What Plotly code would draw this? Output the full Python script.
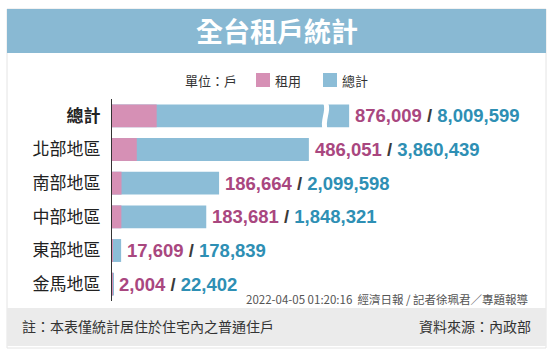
import plotly.graph_objects as go

# ---------------- data ----------------
categories = ["總計", "北部地區", "南部地區", "中部地區", "東部地區", "金馬地區"]
rental = [876009, 486051, 186664, 183681, 17609, 2004]
total = [8009599, 3860439, 2099598, 1848321, 178839, 22402]
break_cap = 4650000  # 總計 bar is drawn broken at this value

title_text = "全台租戶統計"
unit_text = "單位：戶"
legend_names = ["租用", "總計"]
stamp_text = "2022-04-05 01:20:16  經濟日報 / 記者徐珮君／專題報導"
note_text = "註：本表僅統計居住於住宅內之普通住戶"
source_text = "資料來源：內政部"

# ---------------- style ----------------
W, H = 554, 351
PINK_BAR = "#d690b5"
BLUE_BAR = "#8cbdd7"
PINK_TXT = "#a9477f"
TEAL_TXT = "#2e8fb4"
BAND = "#89b9d3"
FOOT = "#ebebeb"
CJK = "Noto Sans CJK TC, Noto Sans CJK SC, sans-serif"
NUM = "Liberation Sans, Arial, sans-serif"


def px(x):
    return x / W


def py(y):
    return 1 - y / H


display_total = [min(t, break_cap) for t in total]

fig = go.Figure()
fig.add_trace(go.Bar(y=categories, x=display_total, orientation="h",
                     marker=dict(color=BLUE_BAR, line=dict(width=0)),
                     name=legend_names[1], showlegend=False, hoverinfo="skip"))
fig.add_trace(go.Bar(y=categories, x=rental, orientation="h",
                     marker=dict(color=PINK_BAR, line=dict(width=0)),
                     name=legend_names[0], showlegend=False, hoverinfo="skip"))

ticktext = ["<b>" + categories[0] + "</b>"] + categories[1:]

shapes = [
    # card
    dict(type="rect", xref="paper", yref="paper", x0=px(7), x1=px(546), y0=py(348), y1=py(9),
         fillcolor="white", line=dict(color="#e4e4e4", width=1), layer="below"),
    # title band
    dict(type="rect", xref="paper", yref="paper", x0=px(7), x1=px(546), y0=py(53), y1=py(9),
         fillcolor=BAND, line=dict(width=0), layer="below"),
    # footer band
    dict(type="rect", xref="paper", yref="paper", x0=px(7), x1=px(546), y0=py(346), y1=py(308),
         fillcolor=FOOT, line=dict(width=0), layer="below"),
    # legend squares
    dict(type="rect", xref="paper", yref="paper", x0=px(256), x1=px(270), y0=py(87), y1=py(73),
         fillcolor=PINK_BAR, line=dict(width=0)),
    dict(type="rect", xref="paper", yref="paper", x0=px(323), x1=px(337), y0=py(87), y1=py(73),
         fillcolor=BLUE_BAR, line=dict(width=0)),
]

# break mark on the 總計 bar (white S-shaped gap)
pts_l = [(323, 103), (327, 110), (319, 122), (323, 130)]
pts_r = [(328, 130), (324, 122), (332, 110), (328, 103)]


def P(p):
    return f"{px(p[0]):.5f},{py(p[1]):.5f}"


path = (f"M{P(pts_l[0])} C{P(pts_l[1])} {P(pts_l[2])} {P(pts_l[3])} "
        f"L{P(pts_r[0])} C{P(pts_r[1])} {P(pts_r[2])} {P(pts_r[3])} Z")
shapes.append(dict(type="path", xref="paper", yref="paper", path=path,
                   fillcolor="white", line=dict(width=0)))

annotations = [
    dict(text="<b>" + title_text + "</b>", xref="paper", yref="paper", x=px(276.5), y=py(31),
         xanchor="center", yanchor="middle", showarrow=False,
         font=dict(family=CJK, size=27, color="white")),
    dict(text=unit_text, xref="paper", yref="paper", x=px(183), y=py(80),
         xanchor="left", yanchor="middle", showarrow=False,
         font=dict(family=CJK, size=13, color="#333")),
    dict(text=legend_names[0], xref="paper", yref="paper", x=px(273), y=py(80),
         xanchor="left", yanchor="middle", showarrow=False,
         font=dict(family=CJK, size=13, color="#333")),
    dict(text=legend_names[1], xref="paper", yref="paper", x=px(340), y=py(80),
         xanchor="left", yanchor="middle", showarrow=False,
         font=dict(family=CJK, size=13, color="#333")),
    dict(text=stamp_text, xref="paper", yref="paper", x=px(531), y=py(299),
         xanchor="right", yanchor="middle", showarrow=False,
         font=dict(family=CJK, size=11.5, color="#555")),
    dict(text=note_text, xref="paper", yref="paper", x=px(20), y=py(326),
         xanchor="left", yanchor="middle", showarrow=False,
         font=dict(family=CJK, size=14, color="#333")),
    dict(text=source_text, xref="paper", yref="paper", x=px(533), y=py(326),
         xanchor="right", yanchor="middle", showarrow=False,
         font=dict(family=CJK, size=14, color="#333")),
]

for cat, r, t, d in zip(categories, rental, total, display_total):
    annotations.append(dict(
        text=(f"<span style='color:{PINK_TXT}'>{r:,}</span>"
              f"<span style='color:#3a3a3a'> / </span>"
              f"<span style='color:{TEAL_TXT}'>{t:,}</span>"),
        x=d, y=cat, xref="x", yref="y", xanchor="left", yanchor="middle",
        xshift=4, showarrow=False,
        font=dict(family=NUM, size=18.5, color="#3a3a3a", weight="bold")))

fig.update_layout(
    width=W, height=H, margin=dict(l=0, r=0, t=0, b=0),
    paper_bgcolor="white", plot_bgcolor="rgba(0,0,0,0)",
    barmode="overlay", bargap=0.32,
    showlegend=False,
    xaxis=dict(domain=[px(112), px(546)], range=[0, 8.51e6], visible=False, fixedrange=True),
    yaxis=dict(domain=[py(301), py(99)], type="category", categoryorder="array",
               categoryarray=categories, range=[5.5, -0.5],
               tickmode="array", tickvals=categories, ticktext=ticktext,
               tickfont=dict(family=CJK, size=17, color="#222"),
               ticks="outside", ticklen=7, tickcolor="rgba(0,0,0,0)",
               showline=True, linecolor="#333", linewidth=1.2,
               showgrid=False, zeroline=False, fixedrange=True),
    shapes=shapes, annotations=annotations,
)

fig.write_html("out.html")
